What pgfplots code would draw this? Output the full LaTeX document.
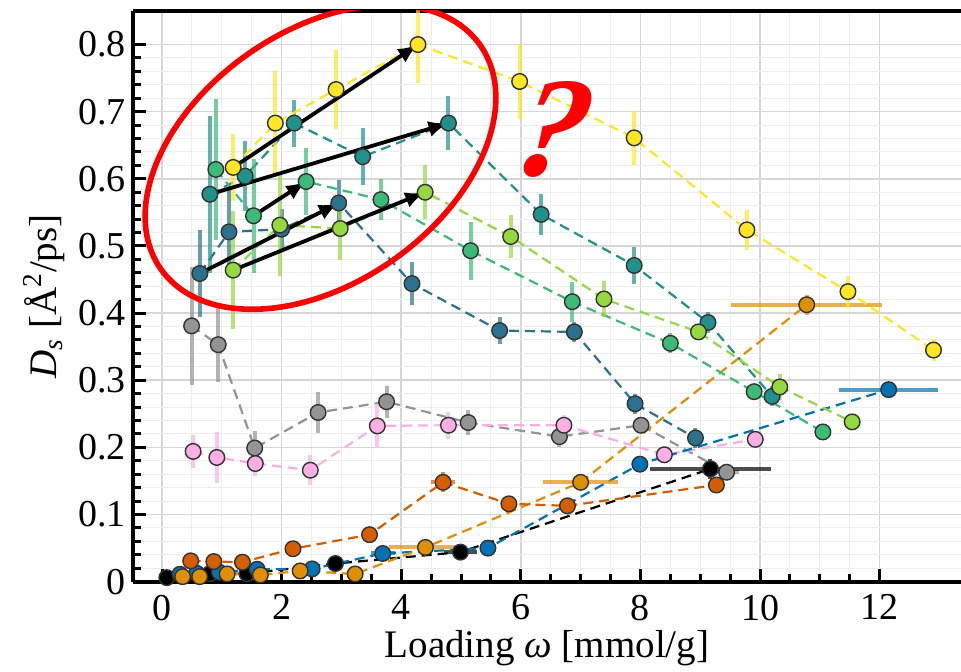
\documentclass[border=0pt]{standalone}
\usepackage{pgfplots}
\pgfplotsset{compat=1.18}
\usepackage{fontspec}
\setmainfont{Liberation Serif}
\usetikzlibrary{arrows.meta}
\definecolor{cdb}{HTML}{2C728E}
\definecolor{cteal}{HTML}{21918C}
\definecolor{cgreen}{HTML}{3BBB75}
\definecolor{clg}{HTML}{95D840}
\definecolor{cyel}{HTML}{FDE725}
\definecolor{cgray}{HTML}{949494}
\definecolor{cpink}{HTML}{FBAFE4}
\definecolor{cverm}{HTML}{D55E00}
\definecolor{corange}{HTML}{DE8F05}
\definecolor{cblue}{HTML}{0173B2}
\pgfplotsset{
  ser/.style={color=#1, line width=1.1pt, dash pattern=on 5pt off 3pt,
    mark=*, mark size=3.9pt,
    mark options={solid, fill=#1, draw=black!80, line width=0.7pt},
    error bars/x dir=both, error bars/y dir=both,
    error bars/x explicit, error bars/y explicit,
    error bars/error mark=none,
    error bars/error bar style={solid, line width=2pt, color=#1, opacity=0.7}},
  arr/.style={-{Latex[length=10pt,width=8pt]}, line width=1.9pt, black, solid, mark=none}
}
\begin{document}
\begin{tikzpicture}
\begin{axis}[
  scale only axis, width=414pt, height=285.35pt,
  xmin=-0.485, xmax=13.36, ymin=0, ymax=0.85,
  axis x line*=box, axis y line*=left,
  xtick pos=bottom, ytick pos=left,
  tick align=inside,
  major tick length=6.5pt, minor tick length=4pt,
  every tick/.style={black, line width=1.5pt},
  axis line style={line width=2pt, black},
  xtick={0,2,4,6,8,10,12},
  ytick={0,0.1,0.2,0.3,0.4,0.5,0.6,0.7,0.8},
  minor x tick num=3, minor y tick num=4,
  grid=both,
  major grid style={black!16, line width=0.8pt},
  minor grid style={black!7, line width=0.5pt},
  /pgf/number format/assume math mode=true,
  yticklabel style={/pgf/number format/fixed, /pgf/number format/precision=1},
  xticklabel style={yshift=-3pt},
  tick label style={font=\fontsize{19}{22}\selectfont},
  label style={font=\fontsize{19.5}{22}\selectfont},
  xlabel={Loading \textit{ω} [mmol/g]},
  ylabel={\textit{D}\textsubscript{\textit{s}} [Å\textsuperscript{2}/ps]},
  xlabel style={yshift=2pt},
]
% gray
\addplot[ser=cgray] table[x=x,y=y,x error=ex,y error=ey,row sep=\\]{
x y ex ey\\
0.495 0.381 0 0.088\\
0.94 0.353 0 0.056\\
1.55 0.199 0 0.025\\
2.61 0.252 0 0.031\\
3.755 0.268 0 0.024\\
5.12 0.237 0 0.019\\
6.645 0.216 0 0.015\\
8.01 0.233 0 0.01\\
9.44 0.163 0.2 0.01\\
};
% pink
\addplot[ser=cpink] table[x=x,y=y,x error=ex,y error=ey,row sep=\\]{
x y ex ey\\
0.52 0.194 0 0.024\\
0.917 0.185 0 0.038\\
1.56 0.176 0 0.019\\
2.48 0.166 0 0.022\\
3.6 0.232 0 0.032\\
4.79 0.233 0 0.02\\
6.72 0.233 0 0.015\\
8.4 0.189 0 0.01\\
9.92 0.212 0 0.01\\
};
% black
\addplot[ser=black] table[x=x,y=y,x error=ex,y error=ey,row sep=\\]{
x y ex ey\\
0.08 0.006 0 0\\
0.8 0.012 0 0\\
1.42 0.012 0 0\\
2.9 0.027 0 0\\
4.99 0.044 0.28 0\\
9.17 0.168 1.01 0.015\\
};
% blue
\addplot[ser=cblue] table[x=x,y=y,x error=ex,y error=ey,row sep=\\]{
x y ex ey\\
0.3 0.011 0 0\\
0.58 0.0125 0 0\\
0.96 0.014 0 0\\
1.59 0.0185 0 0\\
2.51 0.019 0 0\\
3.69 0.042 0.2 0\\
5.45 0.050 0 0\\
7.99 0.175 0 0\\
12.15 0.286 0.825 0\\
};
% orange
\addplot[ser=corange] table[x=x,y=y,x error=ex,y error=ey,row sep=\\]{
x y ex ey\\
0.345 0.0075 0 0\\
0.63 0.0075 0 0\\
1.09 0.0115 0 0\\
1.645 0.010 0 0\\
2.31 0.016 0 0\\
3.23 0.0115 0 0\\
4.405 0.051 0.61 0\\
7.0 0.148 0.63 0\\
10.78 0.4125 1.26 0.015\\
};
% vermillion
\addplot[ser=cverm] table[x=x,y=y,x error=ex,y error=ey,row sep=\\]{
x y ex ey\\
0.48 0.031 0 0\\
0.867 0.030 0 0\\
1.345 0.029 0 0\\
2.19 0.049 0 0\\
3.47 0.070 0 0\\
4.7 0.148 0.2 0.015\\
5.8 0.116 0 0\\
6.78 0.113 0 0\\
9.27 0.144 0 0\\
};
% dark blue (viridis)
\addplot[ser=cdb] table[x=x,y=y,x error=ex,y error=ey,row sep=\\]{
x y ex ey\\
0.633 0.459 0 0.065\\
1.12 0.521 0 0.065\\
2.0 0.525 0 0.03\\
2.955 0.564 0 0.035\\
4.18 0.444 0 0.032\\
5.645 0.374 0 0.02\\
6.895 0.372 0 0.015\\
7.91 0.265 0 0.015\\
8.92 0.214 0 0.015\\
};
% teal
\addplot[ser=cteal] table[x=x,y=y,x error=ex,y error=ey,row sep=\\]{
x y ex ey\\
0.8 0.577 0 0.117\\
1.39 0.604 0 0.052\\
2.21 0.683 0 0.035\\
3.355 0.633 0 0.042\\
4.79 0.683 0 0.04\\
6.34 0.547 0 0.03\\
7.895 0.471 0 0.027\\
9.13 0.386 0 0.015\\
10.2 0.276 0 0.015\\
};
% green
\addplot[ser=cgreen] table[x=x,y=y,x error=ex,y error=ey,row sep=\\]{
x y ex ey\\
0.9 0.614 0 0.105\\
1.53 0.545 0 0.085\\
2.41 0.596 0 0.05\\
3.66 0.569 0 0.031\\
5.16 0.493 0 0.043\\
6.86 0.417 0 0.03\\
8.5 0.355 0 0.015\\
9.9 0.283 0 0.01\\
11.05 0.223 0 0.01\\
};
% light green
\addplot[ser=clg] table[x=x,y=y,x error=ex,y error=ey,row sep=\\]{
x y ex ey\\
1.19 0.464 0 0.088\\
1.97 0.531 0 0.076\\
2.98 0.526 0 0.047\\
4.4 0.580 0 0.04\\
5.83 0.514 0 0.032\\
7.39 0.421 0 0.027\\
8.97 0.372 0 0.012\\
10.33 0.290 0 0.02\\
11.54 0.238 0 0.01\\
};
% yellow
\addplot[ser=cyel] table[x=x,y=y,x error=ex,y error=ey,row sep=\\]{
x y ex ey\\
1.19 0.617 0 0.05\\
1.895 0.683 0 0.077\\
2.91 0.733 0 0.059\\
4.28 0.800 0 0.058\\
5.98 0.745 0 0.056\\
7.895 0.661 0 0.04\\
9.78 0.524 0 0.03\\
11.47 0.432 0 0.024\\
12.9 0.345 0 0.017\\
};
% arrows
\addplot[arr] coordinates {(1.19,0.617) (4.28,0.800)};
\addplot[arr] coordinates {(0.8,0.577) (4.79,0.683)};
\addplot[arr] coordinates {(1.53,0.545) (2.41,0.596)};
\addplot[arr] coordinates {(0.633,0.459) (2.955,0.564)};
\addplot[arr] coordinates {(1.19,0.464) (4.4,0.580)};
\draw[red, line width=2.8pt, rotate around={35:(axis cs:2.65,0.6324)}] (axis cs:2.65,0.6324) ellipse [x radius=97.5pt, y radius=63pt];
\node[text=red, inner sep=0pt, xslant=0.22, font=\fontsize{71}{71}\selectfont\bfseries\itshape] at (axis cs:6.58,0.674) {?};
\end{axis}
\pgfresetboundingbox
\path ([xshift=-66.5pt,yshift=-45.15pt]current axis.south west) rectangle ([yshift=5.5pt]current axis.north east);
\end{tikzpicture}
\end{document}
